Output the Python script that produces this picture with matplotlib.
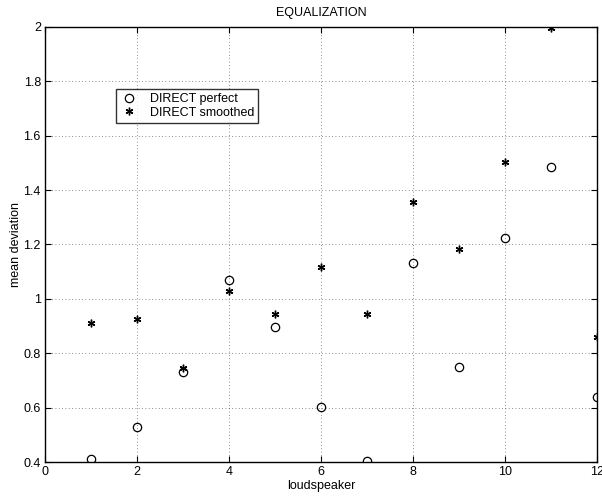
import matplotlib
matplotlib.use("Agg")
import matplotlib.pyplot as plt

plt.rcParams['font.family'] = ['Liberation Sans', 'DejaVu Sans']

speakers = [1, 2, 3, 4, 5, 6, 7, 8, 9, 10, 11, 12]
perfect = [0.41, 0.53, 0.73, 1.069, 0.895, 0.603, 0.403, 1.131, 0.748, 1.225, 1.484, 0.640]
smoothed = [0.910, 0.925, 0.745, 1.030, 0.944, 1.116, 0.943, 1.355, 1.183, 1.504, 1.998, 0.859]
xticks = [0, 2, 4, 6, 8, 10, 12]
yticks = [0.4, 0.6, 0.8, 1.0, 1.2, 1.4, 1.6, 1.8, 2.0]
ytick_labels = ['0.4', '0.6', '0.8', '1', '1.2', '1.4', '1.6', '1.8', '2']

fig = plt.figure(figsize=(6.02, 4.98), dpi=100)
ax = fig.add_axes([45/602, 36/498, 552/602, 435/498])

ax.plot(speakers, perfect, linestyle='none', marker='o', markersize=6,
        markerfacecolor='none', markeredgecolor='black', markeredgewidth=0.9,
        label='DIRECT perfect')
ax.plot(speakers, smoothed, linestyle='none', marker=(6, 2, 0), markersize=5.5,
        markeredgecolor='black', markeredgewidth=1.0, color='black',
        label='DIRECT smoothed')

ax.set_xlim(0, 12)
ax.set_ylim(0.4, 2.0)
ax.set_xticks(xticks)
ax.set_xticklabels([str(t) for t in xticks])
ax.set_yticks(yticks)
ax.set_yticklabels(ytick_labels)
ax.tick_params(direction='in', top=True, right=True, labelsize=9, length=4, width=0.8, pad=3)
ax.grid(True, linestyle=(0, (1, 3)), color='black', linewidth=0.6, alpha=0.6)
for s in ax.spines.values():
    s.set_linewidth(1.0)

ax.set_title('EQUALIZATION', fontsize=9, pad=8)
ax.set_xlabel('loudspeaker', fontsize=9, labelpad=1)
ax.set_ylabel('mean deviation', fontsize=9, labelpad=1)

leg = ax.legend(loc='upper left', bbox_to_anchor=(0.1286, 0.857), fontsize=9,
                frameon=True, fancybox=False, borderpad=0.3, handletextpad=0.9,
                labelspacing=0.15, borderaxespad=0, handlelength=1.5)
leg.get_frame().set_edgecolor('black')
leg.get_frame().set_linewidth(1.0)

fig.savefig('out.png', dpi=100)
